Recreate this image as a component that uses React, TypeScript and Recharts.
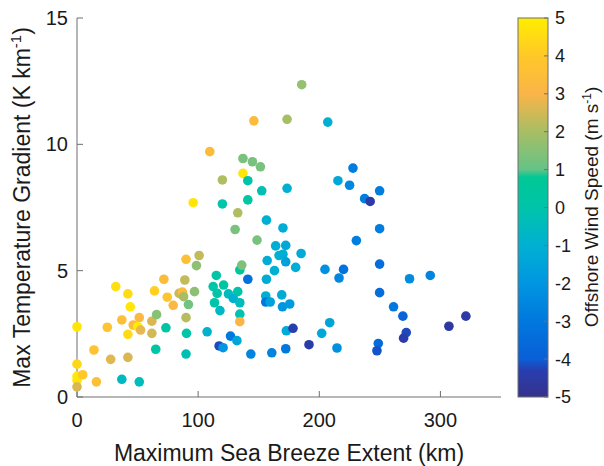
import React from 'react';
import { ScatterChart, Scatter, XAxis, YAxis } from 'recharts';

// Maximum sea breeze extent (km)
const extent = [
  0, 0, 0, 0, 0, 4.7, 16, 14, 25, 27.8, 32, 37, 37, 42, 44, 42, 42, 46.4, 51.4, 50.3,
  52.5, 51.4, 61.8, 61.8, 64, 65.7, 65, 71.7, 74.5, 73.4, 79.4, 84.3, 87, 88, 89, 90, 90, 90.4, 90, 92,
  100.8, 98.6, 97, 107.4, 115, 112.4, 121, 115.7, 113.5, 118, 125, 129, 132.7, 134.4, 134.4, 134.4, 134.4, 136, 141, 126.7,
  132, 117.3, 120.6, 143.5, 160.8, 172.3, 156.4, 155.8, 155.8, 159.5, 157, 164, 172.3, 166.8, 170, 172.3, 163, 180.5, 185, 169,
  169.6, 175.6, 172.8, 178.3, 191.5, 185.5, 146, 173.4, 109.6, 137, 144.8, 151.4, 137, 120, 141, 152.5, 173.4, 95.9, 120, 141,
  132.7, 156.4, 170, 130.5, 148.6, 207, 227.8, 215.4, 225, 249.8, 237.4, 242, 249.8, 230.6, 204.7, 220, 216.3, 249.8, 274.5, 291.6,
  249.8, 261.3, 269, 307, 321, 208.6, 202, 214.6, 248.7, 247.6, 271.8, 269.6,
];

// Max temperature gradient (K km-1)
const gradient = [
  2.78, 1.3, 0.82, 0.66, 0.4, 0.88, 0.6, 1.86, 2.76, 1.49, 4.37, 3.05, 0.7, 4.08, 3.57, 2.48, 1.57, 2.85, 3.14, 2.78,
  2.65, 0.6, 3.0, 2.52, 4.2, 3.26, 1.89, 4.66, 3.95, 2.74, 3.63, 4.1, 4.15, 3.97, 4.63, 5.45, 3.14, 2.52, 1.7, 3.66,
  5.6, 5.2, 4.17, 2.58, 4.81, 4.37, 4.43, 4.1, 3.73, 3.42, 4.08, 3.9, 4.17, 3.73, 3.28, 2.98, 5.03, 5.22, 4.66, 2.41,
  2.23, 2.02, 1.95, 1.7, 1.75, 1.91, 4.66, 4.0, 3.76, 3.76, 5.4, 5.98, 6.0, 5.6, 5.65, 5.35, 5.0, 5.13, 5.68, 4.04,
  3.57, 3.68, 2.62, 2.72, 2.07, 12.36, 10.93, 10.99, 9.71, 9.44, 9.31, 9.11, 8.85, 8.59, 8.56, 8.16, 8.26, 7.69, 7.64, 7.8,
  7.29, 7.0, 6.69, 6.63, 6.21, 10.88, 9.06, 8.56, 8.38, 8.16, 7.85, 7.74, 6.66, 6.19, 5.05, 5.05, 4.71, 5.26, 4.68, 4.81,
  4.13, 3.57, 3.2, 2.8, 3.2, 2.94, 2.52, 1.94, 2.12, 1.83, 2.55, 2.33,
];

// Offshore wind speed (m s-1), shown as colour
const wind = [
  4.8, 4.4, 4.9, 4.8, 2.6, 4.0, 3.6, 3.7, 3.7, 2.7, 4.6, 3.5, -0.6, 4.5, 4.8, 4.5, 2.6, 3.4, 3.2, 5.0,
  2.8, -0.4, 2.6, 2.5, 4.2, 1.5, 0.2, 3.4, 3.8, 0.2, 3.2, 2.4, 3.3, 2.0, 2.3, 3.6, 2.2, 0.1, -0.2, 1.2,
  2.3, 1.6, 1.6, -0.9, 0.1, 0.1, 0.2, 0.0, 0.1, -0.6, -0.5, -1.0, 0.0, -0.4, -0.1, 3.0, 0.4, 1.4, -3.3, -3.0,
  -1.4, -4.2, -2.0, -2.6, -2.6, -3.0, -1.2, -1.0, -3.0, -1.6, -1.2, -1.1, -1.3, -0.9, -1.1, -1.6, -1.0, -1.1, -1.2, -1.2,
  -2.0, -1.8, -1.2, -4.3, -4.4, 1.7, 3.4, 2.0, 3.4, 1.3, 1.3, 1.3, 4.8, 2.1, 0.0, -0.2, -1.0, 4.8, 0.1, 0.3,
  2.1, -1.0, -1.1, 1.3, 1.3, -1.0, -2.8, -1.3, -2.5, -2.8, -2.8, -4.5, -2.8, -2.8, -2.2, -3.2, -2.5, -3.5, -2.3, -2.6,
  -3.5, -3.0, -3.8, -4.6, -4.5, -1.5, -1.3, -2.2, -3.5, -4.1, -4.2, -4.4,
];

const X_TICKS = [0, 100, 200, 300];
const Y_TICKS = [0, 5, 10, 15];
const CBAR_TICKS = [5, 4, 3, 2, 1, 0, -1, -2, -3, -4, -5];

// colormap stops sampled from the colour bar: [value, r, g, b]
const CMAP: [number, number, number, number][] = [
  [-5, 53, 50, 140],
  [-4.3, 40, 62, 175],
  [-4, 10, 95, 215],
  [-3, 0, 120, 222],
  [-2, 0, 150, 225],
  [-1, 0, 176, 210],
  [0, 0, 196, 170],
  [0.8, 0, 200, 150],
  [1, 100, 195, 135],
  [2, 168, 190, 100],
  [3, 250, 180, 72],
  [4, 255, 200, 40],
  [5, 255, 238, 0],
];

function windColor(v: number) {
  if (v <= CMAP[0][0]) return `rgb(${CMAP[0][1]},${CMAP[0][2]},${CMAP[0][3]})`;
  for (let i = 1; i < CMAP.length; i++) {
    const [v1, r1, g1, b1] = CMAP[i];
    const [v0, r0, g0, b0] = CMAP[i - 1];
    if (v <= v1) {
      const t = (v - v0) / (v1 - v0);
      const r = Math.round(r0 + (r1 - r0) * t);
      const g = Math.round(g0 + (g1 - g0) * t);
      const b = Math.round(b0 + (b1 - b0) * t);
      return `rgb(${r},${g},${b})`;
    }
  }
  const last = CMAP[CMAP.length - 1];
  return `rgb(${last[1]},${last[2]},${last[3]})`;
}

const points = extent.map((x, i) => ({ x, y: gradient[i], w: wind[i] }));

const FONT = '"Liberation Sans", Arial, Helvetica, sans-serif';
const TEXT = '#1a1a1a';
const AXIS = '#6e6e6e';

const PLOT_TOP = 18;
const PLOT_BOTTOM = 397;
const PLOT_LEFT = 77;
const PLOT_RIGHT = 501;

function Dot(props: any) {
  const { cx, cy, payload } = props;
  if (cx == null || cy == null) return null;
  return <circle cx={cx} cy={cy} r={4.8} fill={windColor(payload.w)} />;
}

function ColorBar() {
  const x = 518;
  const w = 30;
  const top = PLOT_TOP;
  const h = PLOT_BOTTOM - PLOT_TOP;
  const yOf = (v: number) => top + ((5 - v) / 10) * h;
  return (
    <svg width={604} height={466} style={{ position: 'absolute', left: 0, top: 0, pointerEvents: 'none' }}>
      <defs>
        <linearGradient id="cbar" x1="0" y1="1" x2="0" y2="0">
          {CMAP.map(([v, r, g, b]) => (
            <stop key={v} offset={`${((v + 5) / 10) * 100}%`} stopColor={`rgb(${r},${g},${b})`} />
          ))}
        </linearGradient>
      </defs>
      <rect x={x} y={top} width={w} height={h} fill="url(#cbar)" stroke={AXIS} strokeWidth={1} />
      {CBAR_TICKS.map((t) => (
        <g key={t}>
          <line x1={x + w - 4} x2={x + w} y1={yOf(t)} y2={yOf(t)} stroke={AXIS} />
          <text x={555} y={yOf(t)} dy="0.36em" fontSize={18} fontFamily={FONT} fill={TEXT}>
            {t}
          </text>
        </g>
      ))}
      <text
        transform="rotate(-90)"
        x={-207}
        y={598}
        textAnchor="middle"
        fontSize={19}
        fontFamily={FONT}
        fill={TEXT}
      >
        Offshore Wind Speed (m s
        <tspan dy={-7} fontSize={12}>-1</tspan>
        <tspan dy={7}>)</tspan>
      </text>
    </svg>
  );
}

function YLabel() {
  return (
    <text
      transform="rotate(-90)"
      x={-(PLOT_TOP + PLOT_BOTTOM) / 2}
      y={30}
      textAnchor="middle"
      fontSize={23}
      fontFamily={FONT}
      fill={TEXT}
    >
      Max Temperature Gradient (K km
      <tspan dy={-9} fontSize={15}>-1</tspan>
      <tspan dy={9}>)</tspan>
    </text>
  );
}

function XLabel() {
  return (
    <text
      x={(PLOT_LEFT + PLOT_RIGHT) / 2}
      y={461}
      textAnchor="middle"
      fontSize={23}
      fontFamily={FONT}
      fill={TEXT}
    >
      Maximum Sea Breeze Extent (km)
    </text>
  );
}

export default function App() {
  const tickStyle = { fontSize: 20, fontFamily: FONT, fill: TEXT };
  return (
    <div style={{ position: 'absolute', left: 0, top: 0, width: 604, height: 466, background: '#fff' }}>
      <ScatterChart
        width={604}
        height={466}
        margin={{ top: PLOT_TOP, right: 604 - PLOT_RIGHT, bottom: 9, left: 17 }}
      >
        <XAxis
          xAxisId="b"
          type="number"
          dataKey="x"
          domain={[0, 350]}
          ticks={X_TICKS}
          height={60}
          tickSize={-6}
          tickMargin={22}
          tick={tickStyle}
          stroke={AXIS}
          label={{ content: () => <XLabel /> }}
        />
        <XAxis
          xAxisId="t"
          orientation="top"
          type="number"
          domain={[0, 350]}
          ticks={X_TICKS}
          height={0}
          tickSize={-6}
          tick={false}
          stroke={AXIS}
        />
        <YAxis
          yAxisId="l"
          type="number"
          dataKey="y"
          domain={[0, 15]}
          ticks={Y_TICKS}
          width={60}
          tickSize={-6}
          tickMargin={15}
          tick={tickStyle}
          stroke={AXIS}
          label={{ content: () => <YLabel /> }}
        />
        <YAxis
          yAxisId="r"
          orientation="right"
          type="number"
          domain={[0, 15]}
          ticks={Y_TICKS}
          width={0}
          tickSize={-6}
          tick={false}
          stroke={AXIS}
        />
        <Scatter
          data={points}
          xAxisId="b"
          yAxisId="l"
          shape={Dot}
          isAnimationActive={false}
        />
      </ScatterChart>
      <ColorBar />
    </div>
  );
}
